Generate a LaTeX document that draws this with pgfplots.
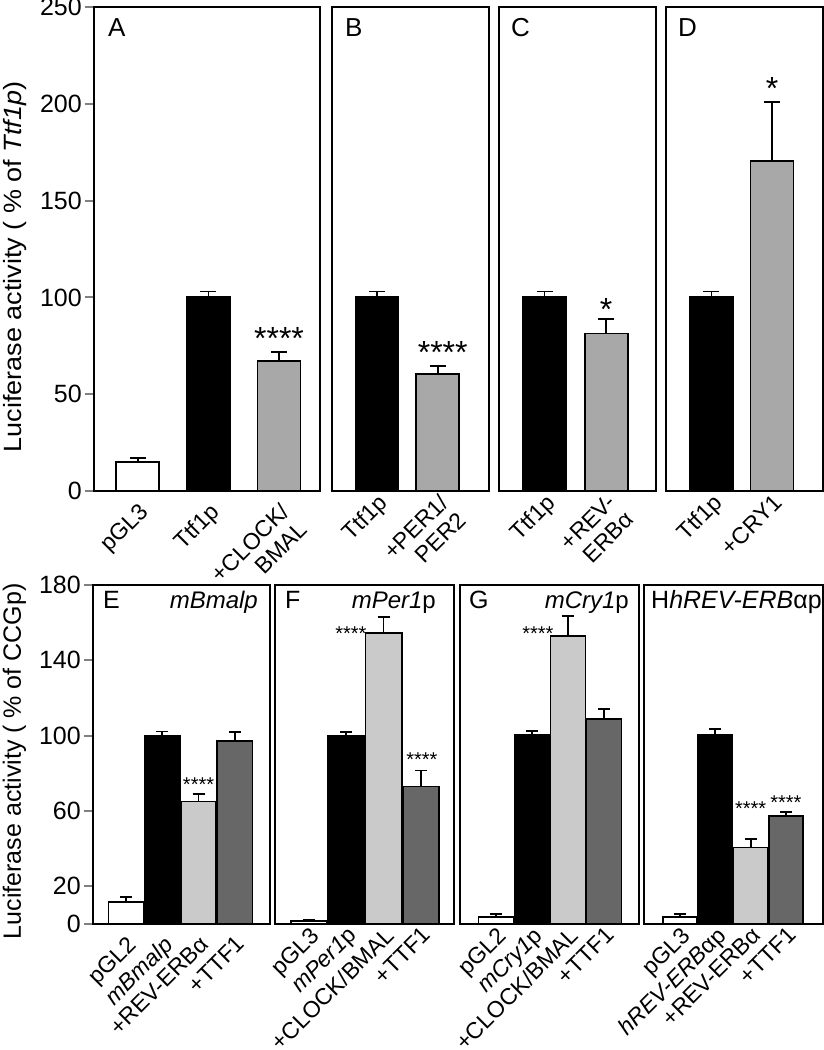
\documentclass[border=0pt]{standalone}
\usepackage{pgfplots}
\pgfplotsset{compat=1.18}
\usepackage{fontspec}
\setmainfont{Liberation Sans}
\definecolor{gA}{HTML}{A8A8A8}
\definecolor{gL}{HTML}{CACACA}
\definecolor{gD}{HTML}{676767}
\newcommand\fs[2]{\fontsize{#1}{#2}\selectfont}
\pgfplotsset{
  panel/.style={scale only axis, anchor=south west, clip=false,
    axis line style={line width=2pt}, ymin=0,
    xtick style={draw=none}, ytick=\empty,
    /pgf/number format/assume math mode=true,
    tick label style={font=\fs{23}{25}},
    xticklabel style={rotate=45, anchor=north east, inner sep=1pt, align=right},
    xtick={0,1,2,3}},
  toprow/.style={panel, height=484pt, ymax=250, xmin=-0.74, xmax=1.83},
  botrow/.style={panel, height=339pt, ymax=180, xmin=-1, xmax=4},
  leftax/.style={ytick pos=left, tick align=outside, major tick length=9pt,
    ytick style={line width=2pt}, yticklabel style={inner sep=3pt, font=\fs{25}{27}},
    ylabel style={font=\fs{25}{28}, anchor=base, inner sep=0pt}},
  tbar/.style={ybar, bar shift=0pt, bar width=43pt, draw=black, line width=1.8pt,
    error bars/y dir=plus, error bars/y explicit,
    error bars/error bar style={line width=1.8pt},
    error bars/error mark options={rotate=90, mark size=8pt, line width=1.8pt}},
  bbar/.style={ybar, bar shift=0pt, bar width=0.97, draw=black, line width=1.8pt,
    error bars/y dir=plus, error bars/y explicit,
    error bars/error bar style={line width=1.8pt},
    error bars/error mark options={rotate=90, mark size=6pt, line width=1.8pt}},
}
\begin{document}
\begin{tikzpicture}
\useasboundingbox (0,0) rectangle (824pt,1050pt);
% ---------- A ----------
\begin{axis}[toprow, leftax, at={(94pt,559pt)}, width=226pt, xmin=-0.62, xmax=2.58,
  ytick={0,50,100,150,200,250},
  ylabel={\scalebox{1.08}[1]{Luciferase activity ( \% of \textit{Ttf1p})}},
  ylabel style={at={(rel axis cs:-0.323,0.463)}},
  xticklabels={pGL3, Ttf1p, {+CLOCK/\\BMAL}}]
\addplot[tbar, fill=white] coordinates {(0,15) +- (0,2)};
\addplot[tbar, fill=black] coordinates {(1,100) +- (0,3)};
\addplot[tbar, fill=gA] coordinates {(2,67) +- (0,5)};
\node[anchor=base west, inner sep=0, font=\fs{26}{28}, xshift=14pt, yshift=-30pt] at (rel axis cs:0,1) {A};
\node[anchor=base, inner sep=0, font=\fs{32}{32}] at (axis cs:2,73) {****};
\end{axis}
% ---------- B ----------
\begin{axis}[toprow, at={(332pt,559pt)}, width=157pt, xmin=-0.74, xmax=1.84,
  xticklabels={Ttf1p, {+PER1/\\PER2}}]
\addplot[tbar, fill=black] coordinates {(0,100) +- (0,3)};
\addplot[tbar, fill=gA] coordinates {(1,60.6) +- (0,4)};
\node[anchor=base west, inner sep=0, font=\fs{26}{28}, xshift=13pt, yshift=-30pt] at (rel axis cs:0,1) {B};
\node[anchor=base, inner sep=0, font=\fs{32}{32}] at (axis cs:1.08,66) {****};
\end{axis}
% ---------- C ----------
\begin{axis}[toprow, at={(499pt,559pt)}, width=157pt, xmin=-0.74, xmax=1.81,
  xticklabels={Ttf1p, {+REV-\\ERBα}}]
\addplot[tbar, fill=black] coordinates {(0,100) +- (0,3)};
\addplot[tbar, fill=gA] coordinates {(1,81.4) +- (0,7.4)};
\node[anchor=base west, inner sep=0, font=\fs{26}{28}, xshift=12pt, yshift=-30pt] at (rel axis cs:0,1) {C};
\node[anchor=base, inner sep=0, font=\fs{32}{32}] at (axis cs:1,88.3) {*};
\end{axis}
% ---------- D ----------
\begin{axis}[toprow, at={(666pt,559pt)}, width=157pt, xmin=-0.75, xmax=1.84,
  xticklabels={Ttf1p, +CRY1}]
\addplot[tbar, fill=black] coordinates {(0,100) +- (0,3)};
\addplot[tbar, fill=gA] coordinates {(1,170.3) +- (0,30.7)};
\node[anchor=base west, inner sep=0, font=\fs{26}{28}, xshift=12pt, yshift=-30pt] at (rel axis cs:0,1) {D};
\node[anchor=base, inner sep=0, font=\fs{32}{32}] at (axis cs:1,202) {*};
\end{axis}
% ---------- E ----------
\begin{axis}[botrow, leftax, at={(93pt,126pt)}, width=177pt, xmin=-0.91, xmax=3.97,
  ytick={0,20,60,100,140,180},
  ylabel={Luciferase activity ( \% of CCGp)},
  ylabel style={at={(rel axis cs:-0.407,0.48)}},
  xticklabels={pGL2, \textit{mBmalp}, +REV-ERBα, +TTF1}]
\addplot[bbar, fill=white] coordinates {(0,11.5) +- (0,2.8)};
\addplot[bbar, fill=black] coordinates {(1,100) +- (0,2.2)};
\addplot[bbar, fill=gL] coordinates {(2,65) +- (0,4.1)};
\addplot[bbar, fill=gD] coordinates {(3,97.2) +- (0,4.6)};
\node[anchor=base west, inner sep=0, font=\fs{25}{28}, xshift=10pt, yshift=-24pt] at (rel axis cs:0,1) {E};
\node[anchor=base east, inner sep=0, font=\fs{24}{28}, xshift=-12pt, yshift=-24pt] at (rel axis cs:1,1) {\textit{mBmalp}};
\node[anchor=base, inner sep=0, font=\fs{20}{20}] at (axis cs:2,70.2) {****};
\end{axis}
% ---------- F ----------
\begin{axis}[botrow, at={(275pt,126pt)}, width=179pt, xmin=-0.91, xmax=3.89,
  xticklabels={pGL3, \textit{mPer1}p, +CLOCK/BMAL, +TTF1}]
\addplot[bbar, fill=white] coordinates {(0,1.8) +- (0,0.6)};
\addplot[bbar, fill=black] coordinates {(1,100) +- (0,1.8)};
\addplot[bbar, fill=gL] coordinates {(2,154.4) +- (0,8.8)};
\addplot[bbar, fill=gD] coordinates {(3,73) +- (0,8.5)};
\node[anchor=base west, inner sep=0, font=\fs{25}{28}, xshift=10pt, yshift=-24pt] at (rel axis cs:0,1) {F};
\node[anchor=base east, inner sep=0, font=\fs{24}{28}, xshift=-18pt, yshift=-24pt] at (rel axis cs:1,1) {\textit{mPer1}p};
\node[anchor=base east, inner sep=0, font=\fs{20}{20}] at (axis cs:1.55,150.3) {****};
\node[anchor=base, inner sep=0, font=\fs{20}{20}] at (axis cs:3.03,83.5) {****};
\end{axis}
% ---------- G ----------
\begin{axis}[botrow, at={(460pt,126pt)}, width=179pt, xmin=-1.0, xmax=3.97,
  xticklabels={pGL2, \textit{mCry1}p, +CLOCK/BMAL, +TTF1}]
\addplot[bbar, fill=white] coordinates {(0,3.7) +- (0,1.6)};
\addplot[bbar, fill=black] coordinates {(1,100.3) +- (0,2.1)};
\addplot[bbar, fill=gL] coordinates {(2,152.8) +- (0,10.9)};
\addplot[bbar, fill=gD] coordinates {(3,108.8) +- (0,5.3)};
\node[anchor=base west, inner sep=0, font=\fs{25}{28}, xshift=9pt, yshift=-24pt] at (rel axis cs:0,1) {G};
\node[anchor=base east, inner sep=0, font=\fs{24}{28}, xshift=-10pt, yshift=-24pt] at (rel axis cs:1,1) {\textit{mCry1}p};
\node[anchor=base east, inner sep=0, font=\fs{20}{20}] at (axis cs:1.6,150.3) {****};
\end{axis}
% ---------- H ----------
\begin{axis}[botrow, at={(644pt,126pt)}, width=179pt, xmin=-1.02, xmax=4.05,
  xticklabels={pGL3, \textit{hREV-ERB}αp, +REV-ERBα, +TTF1}]
\addplot[bbar, fill=white] coordinates {(0,3.7) +- (0,1.4)};
\addplot[bbar, fill=black] coordinates {(1,100.6) +- (0,2.8)};
\addplot[bbar, fill=gL] coordinates {(2,40.6) +- (0,4.7)};
\addplot[bbar, fill=gD] coordinates {(3,57.5) +- (0,1.9)};
\node[anchor=base west, inner sep=0, font=\fs{25}{28}, xshift=7pt, yshift=-24pt] at (rel axis cs:0,1) {H\textit{hREV-ERB}αp};
\node[anchor=base, inner sep=0, font=\fs{20}{20}] at (axis cs:2,57.5) {****};
\node[anchor=base, inner sep=0, font=\fs{20}{20}] at (axis cs:3,60.7) {****};
\end{axis}
\end{tikzpicture}
\end{document}
